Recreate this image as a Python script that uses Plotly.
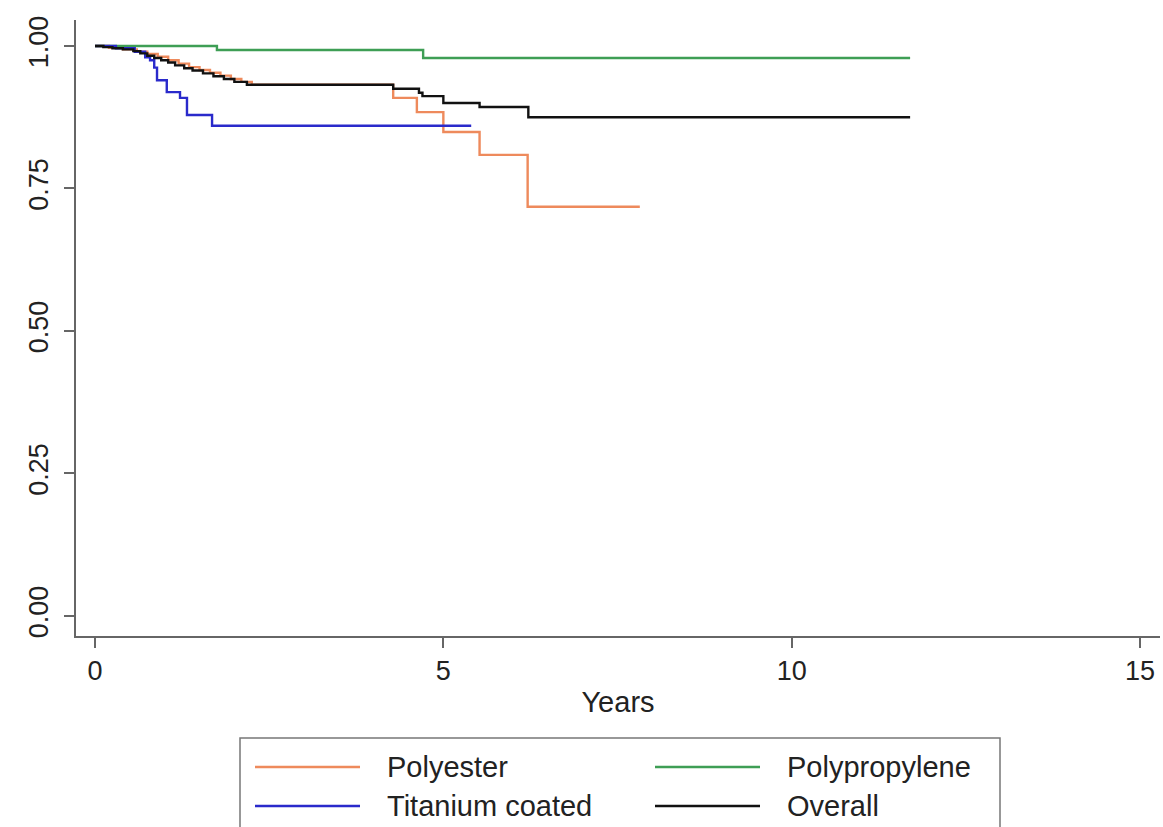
import plotly.graph_objects as go

# ---------------- data ----------------
polyester_t = [0, 0.2, 0.4, 0.6, 0.75, 0.9, 1.05, 1.2, 1.35, 1.5, 1.65, 1.8, 1.95, 2.1, 2.25,
               4.28, 4.62, 5.0, 5.52, 6.21, 7.82]
polyester_s = [1.0, 0.997, 0.994, 0.99, 0.986, 0.981, 0.975, 0.969, 0.963, 0.958, 0.953, 0.948,
               0.942, 0.937, 0.932, 0.909, 0.884, 0.849, 0.809, 0.718, 0.718]

polypropylene_t = [0, 1.75, 4.71, 11.7]
polypropylene_s = [1.0, 0.993, 0.979, 0.979]

titanium_t = [0, 0.3, 0.57, 0.72, 0.79, 0.85, 0.89, 1.03, 1.22, 1.32, 1.68, 5.4]
titanium_s = [1.0, 0.996, 0.99, 0.98, 0.975, 0.962, 0.94, 0.919, 0.909, 0.879, 0.86, 0.86]

overall_t = [0, 0.12, 0.25, 0.4, 0.55, 0.65, 0.75, 0.85, 0.95, 1.05, 1.15, 1.28, 1.4, 1.55,
             1.7, 1.85, 2.0, 2.18, 4.28, 4.65, 4.70, 5.0, 5.52, 6.22, 11.7]
overall_s = [1.0, 0.998, 0.996, 0.994, 0.991, 0.987, 0.983, 0.979, 0.975, 0.971, 0.966, 0.961,
             0.957, 0.952, 0.947, 0.942, 0.937, 0.932, 0.925, 0.918, 0.912, 0.900, 0.893,
             0.875, 0.875]

x_ticks = [0, 5, 10, 15]
y_ticks = [0, 0.25, 0.5, 0.75, 1.0]
y_tick_labels = ["0.00", "0.25", "0.50", "0.75", "1.00"]

series = [
    ("Polyester", polyester_t, polyester_s, "#EE8A5C"),
    ("Polypropylene", polypropylene_t, polypropylene_s, "#3E9E55"),
    ("Titanium coated", titanium_t, titanium_s, "#2A2ACB"),
    ("Overall", overall_t, overall_s, "#111111"),
]

# ---------------- layout geometry ----------------
W, H = 1163, 827
L, R, T, B = 76, 3, 20, 191
PW = W - L - R
PH = H - T - B
FONT = "Liberation Sans, Arial, sans-serif"


def px_x(p):
    return (p - L) / PW


def px_y(p):
    return (H - B - p) / PH


fig = go.Figure()
for name, t, s, c in series:
    fig.add_trace(go.Scatter(x=t, y=s, mode="lines", name=name,
                             line=dict(color=c, width=2.4, shape="hv"),
                             showlegend=False))

fig.update_layout(
    width=W, height=H,
    margin=dict(l=L, r=R, t=T, b=B),
    paper_bgcolor="white", plot_bgcolor="white",
    font=dict(family=FONT, color="#222222"),
)
fig.update_xaxes(
    range=[-0.273, 15.287], tickvals=x_ticks, ticks="outside", ticklen=10,
    tickwidth=1.5, tickcolor="#666666", showline=True, linecolor="#666666",
    linewidth=2, showgrid=False, zeroline=False,
    tickfont=dict(size=27, family=FONT, color="#222222"),
    title=dict(text="Years", font=dict(size=29, family=FONT, color="#222222"), standoff=6),
)
fig.update_yaxes(
    range=[-0.0351, 1.0456], tickvals=y_ticks, ticktext=y_tick_labels, ticks="outside",
    ticklen=10, tickwidth=1.5, tickcolor="#666666", showline=True, linecolor="#666666",
    linewidth=2, showgrid=False, zeroline=False, tickangle=-90, ticklabelstandoff=5,
    tickfont=dict(size=27, family=FONT, color="#222222"),
)

# ---------------- manual legend (Stata style) ----------------
shapes = [dict(type="rect", xref="paper", yref="paper",
               x0=px_x(240), x1=px_x(1000), y0=px_y(850), y1=px_y(738),
               line=dict(color="#777777", width=1.5), fillcolor="white", layer="above")]
annotations = []
legend_pos = [(255, 767), (655, 767), (255, 806), (655, 806)]
for (name, t, s, c), (lx, ly) in zip(series, legend_pos):
    shapes.append(dict(type="line", xref="paper", yref="paper",
                       x0=px_x(lx), x1=px_x(lx + 105), y0=px_y(ly), y1=px_y(ly),
                       line=dict(color=c, width=2.4)))
    annotations.append(dict(text=name, xref="paper", yref="paper",
                            x=px_x(lx + 130), y=px_y(ly), xanchor="left", yanchor="middle",
                            showarrow=False, font=dict(size=29, family=FONT, color="#222222")))
fig.update_layout(shapes=shapes, annotations=annotations)

fig.write_html("out.html")
